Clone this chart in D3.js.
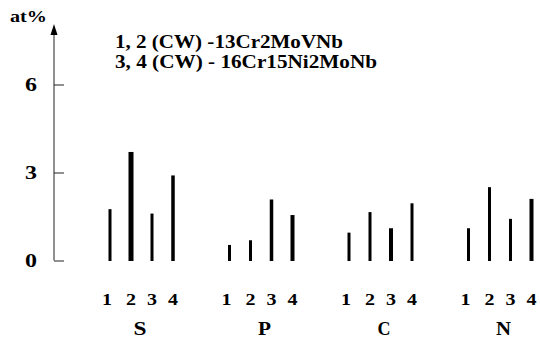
<!DOCTYPE html>
<html>
<head>
<meta charset="utf-8">
<script src="https://cdn.jsdelivr.net/npm/d3@7"></script>
<style>
  body { margin: 0; background: #fff; }
  svg text { font-family: "Liberation Serif", "Times New Roman", Times, "DejaVu Serif", serif; font-weight: bold; fill: #000; }
</style>
</head>
<body>
<div id="container"></div>
<script>
/* DATA */
const elements = ["S", "P", "C", "N"];
const samples = ["1", "2", "3", "4"];
const values = {
  S: [1.75, 3.7, 1.6, 2.9],
  P: [0.53, 0.69, 2.08, 1.55],
  C: [0.95, 1.65, 1.1, 1.95],
  N: [1.1, 2.5, 1.42, 2.1]
};
const yTicks = [0, 3, 6];
const legendLines = ["1, 2 (CW) -13Cr2MoVNb", "3, 4 (CW) - 16Cr15Ni2MoNb"];

// bar thickness (style only)
const barWidths = {
  S: [3, 5, 3, 3.5],
  P: [3, 3, 3.5, 4],
  C: [3, 3, 4, 3],
  N: [3, 3, 3, 4]
};

/* CONSTANTS */
const width = 540;
const height = 338;
const axisX = 54;
const fontFam = '"Liberation Serif", "Times New Roman", serif';

const svg = d3.select("#container")
  .append("svg")
  .attr("width", width)
  .attr("height", height);

/* SCALES */
const yScale = d3.scaleLinear()
  .domain([0, 6])
  .range([260.5, 84.5]);

const groupScale = d3.scalePoint()
  .domain(elements)
  .range([141.5, 500]);

const sampleScale = d3.scalePoint()
  .domain(samples)
  .range([-31.5, 31.5]);

/* Y AXIS */
svg.append("line")
  .attr("x1", axisX).attr("x2", axisX)
  .attr("y1", yScale(0)).attr("y2", 32)
  .attr("stroke", "#222")
  .attr("stroke-width", 1);

svg.append("path")
  .attr("d", `M${axisX},24 L${axisX - 3.5},35 L${axisX + 3.5},35 Z`)
  .attr("fill", "#000");

const yAxis = d3.axisLeft(yScale)
  .tickValues(yTicks)
  .tickFormat(d3.format("d"))
  .tickSizeInner(-10)
  .tickSizeOuter(0)
  .tickPadding(0);

const yAxisGroup = svg.append("g")
  .attr("transform", `translate(${axisX},0)`)
  .call(yAxis)
  .attr("font-family", fontFam);

yAxisGroup.select(".domain").remove();
yAxisGroup.selectAll(".tick line").attr("stroke", "#222");
yAxisGroup.selectAll(".tick text")
  .attr("x", -23)
  .attr("dy", "0.32em")
  .attr("text-anchor", "middle")
  .attr("font-size", 19)
  .attr("textLength", 12)
  .attr("lengthAdjust", "spacingAndGlyphs");

svg.append("text")
  .attr("x", 10)
  .attr("y", 22)
  .attr("font-size", 17)
  .attr("textLength", 37)
  .attr("lengthAdjust", "spacingAndGlyphs")
  .text("at%");

/* LEGEND */
const legendWidths = [228, 262];
svg.selectAll(".legend")
  .data(legendLines)
  .join("text")
  .attr("class", "legend")
  .attr("x", 115)
  .attr("y", (d, i) => 48 + i * 20)
  .attr("font-size", 18)
  .attr("textLength", (d, i) => legendWidths[i])
  .attr("lengthAdjust", "spacingAndGlyphs")
  .text(d => d);

/* BARS */
const groups = svg.selectAll(".group")
  .data(elements)
  .join("g")
  .attr("class", "group")
  .attr("transform", d => `translate(${groupScale(d)},0)`);

groups.selectAll("rect")
  .data(el => values[el].map((v, i) => ({ el, sample: samples[i], value: v, w: barWidths[el][i] })))
  .join("rect")
  .attr("x", d => sampleScale(d.sample) - d.w / 2)
  .attr("width", d => d.w)
  .attr("y", d => yScale(d.value))
  .attr("height", d => yScale(0) - yScale(d.value) + 0.5)
  .attr("fill", "#000");

groups.selectAll(".num")
  .data(samples)
  .join("text")
  .attr("class", "num")
  .attr("text-anchor", "middle")
  .attr("font-size", 17)
  .attr("x", d => sampleScale(d) - (d === "1" ? 3 : 0))
  .attr("y", 305)
  .attr("textLength", 10)
  .attr("lengthAdjust", "spacingAndGlyphs")
  .text(d => d);

groups.append("text")
  .attr("text-anchor", "middle")
  .attr("font-size", 18)
  .attr("x", d => d === "S" ? -1.5 : 3.5)
  .attr("y", 335)
  .attr("textLength", d => d === "N" ? 15 : 13)
  .attr("lengthAdjust", "spacingAndGlyphs")
  .text(d => d);
</script>
</body>
</html>
